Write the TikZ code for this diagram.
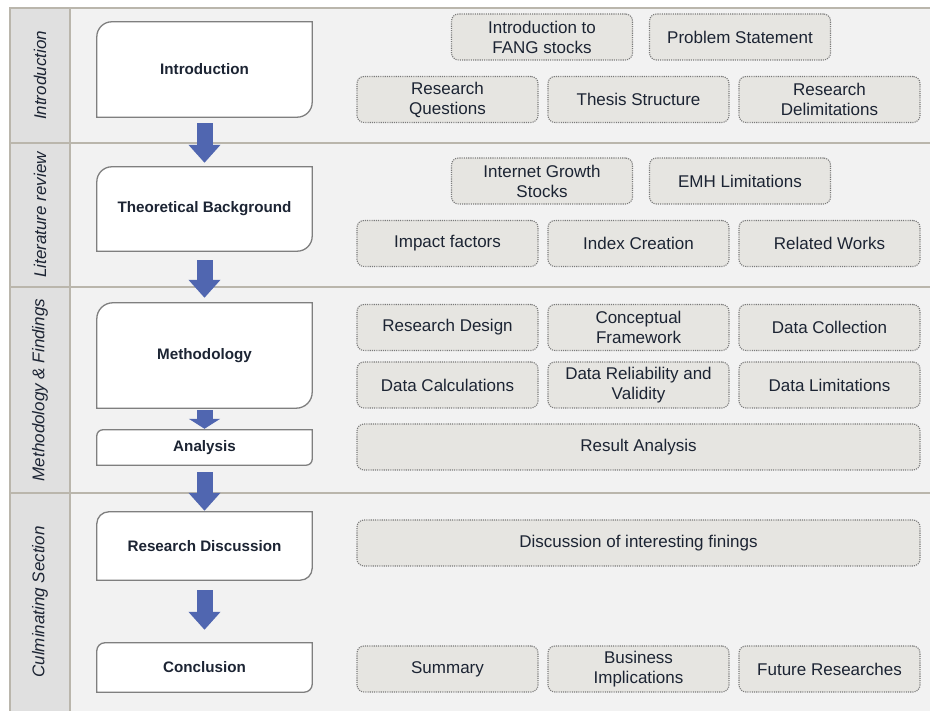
\documentclass[tikz,border=0pt]{standalone}
\usepackage{fontspec}
\setmainfont{Liberation Sans}
\usetikzlibrary{positioning, arrows.meta, backgrounds}

\definecolor{lanefill}{HTML}{F2F2F2}
\definecolor{labelfill}{HTML}{E0E0E0}
\definecolor{laneline}{HTML}{BAB6AC}
\definecolor{topicfill}{HTML}{E6E5E1}
\definecolor{topicline}{HTML}{7A7A7A}
\definecolor{stageline}{HTML}{7F7F7F}
\definecolor{stageblue}{HTML}{5066B0}
\definecolor{ink}{HTML}{1C2433}

\begin{document}
\begin{tikzpicture}[x=1pt, y=1pt, node distance=10pt,
		stage/.style={minimum width=215pt, minimum height=#1, inner sep=0pt, text=ink, font=\fontsize{15.2}{18}\selectfont\bfseries},
		topic/.style={draw=topicline, line width=1.1pt, dash pattern=on 1.1pt off 1.1pt, fill=topicfill, rounded corners=7pt, minimum width=181pt, minimum height=46pt, inner sep=0pt, outer sep=0pt, align=center, text=ink, font=\fontsize{17}{20}\selectfont},
		lane/.style={rotate=90, text=ink, font=\fontsize{17}{20}\selectfont\itshape},
		flow/.style={color=stageblue, line width=16pt, -{Triangle[width=31pt, length=18pt]}}]
		\useasboundingbox (0,0) rectangle (930,711);
		
		% lanes
		\begin{scope}[on background layer]
			\fill[lanefill] (10,0) rectangle (930,703);
			\fill[labelfill] (10,0) rectangle (70,703);
			\draw[laneline, line width=2pt] (10,0) -- (10,703) -- (930,703);
			\draw[laneline, line width=2pt] (70,0) -- (70,703);
			\foreach \y in {568,424,218}
				\draw[laneline, line width=2pt] (10,\y) -- (930,\y);
		\end{scope}
		
		\node[lane] (lintro) at (40,635.5) {Introduction};
		\node[lane] (llit) at (40,496) {Literature review};
		\node[lane] (lmeth) at (40,321) {Methodology \& Findings};
		\node[lane] (lculm) at (40,109) {Culminating Section};
		
		% stages
		\node[stage=95pt] (intro) at (204.5,641.5) {Introduction};
		\node[stage=84pt] (theory) at (204.5,502) {Theoretical Background};
		\node[stage=105pt] (method) at (204.5,355.5) {Methodology};
		\node[stage=35pt] (analysis) at (204.5,263.5) {Analysis};
		\node[stage=68pt] (discuss) at (204.5,165) {Research Discussion};
		\node[stage=49pt] (concl) at (204.5,43.5) {Conclusion};
		
		\begin{scope}[on background layer]
			\foreach \n/\r in {intro/15, theory/15, method/16, analysis/6, discuss/12, concl/8}
				\filldraw[draw=stageline, fill=white, line width=1.3pt]
					(\n.south west) -- ([yshift=-\r pt]\n.north west)
					arc[start angle=180, end angle=90, radius=\r pt] -- (\n.north east)
					-- ([yshift=\r pt]\n.south east)
					arc[start angle=0, end angle=-90, radius=\r pt] -- cycle;
		\end{scope}
		
		% introduction lane
		\node[topic] (fang) at (542,674) {Introduction to\\FANG stocks};
		\node[topic] (problem) [right=17pt of fang] {Problem Statement};
		\node[topic] (questions) at (447.5,611.5) {Research\\Questions};
		\node[topic] (structure) [right=of questions] {Thesis Structure};
		\node[topic] (delim) [right=of structure] {Research\\Delimitations};
		
		% literature lane
		\node[topic] (growth) at (542,530) {Internet Growth\\Stocks};
		\node[topic] (emh) [right=17pt of growth] {EMH Limitations};
		\node[topic] (impact) at (447.5,467.5) {Impact factors};
		\node[topic] (index) [right=of impact] {Index Creation};
		\node[topic] (related) [right=of index] {Related Works};
		
		% methodology lane
		\node[topic] (design) at (447.5,383.5) {Research Design};
		\node[topic] (framework) [right=of design] {Conceptual\\Framework};
		\node[topic] (collect) [right=of framework] {Data Collection};
		\node[topic] (calc) at (447.5,326) {Data Calculations};
		\node[topic] (valid) [right=of calc] {Data Reliability and\\Validity};
		\node[topic] (limits) [right=of valid] {Data Limitations};
		\node[topic, minimum width=563pt] (result) at (638.5,264) {Result Analysis};
		
		% culminating lane
		\node[topic, minimum width=563pt] (findings) at (638.5,168) {Discussion of interesting finings};
		\node[topic] (summary) at (447.5,42) {Summary};
		\node[topic] (business) [right=of summary] {Business\\Implications};
		\node[topic] (future) [right=of business] {Future Researches};
		
		\path[flow]
		(intro) edge [shorten <=6pt, shorten >=4pt] (theory)
		(theory) edge [shorten <=9pt, shorten >=5pt] (method)
		(method) edge [shorten <=2pt, shorten >=1pt, -{Triangle[width=31pt, length=10pt]}] (analysis)
		(analysis) edge [shorten <=7pt, shorten >=1pt] (discuss)
		(discuss) edge [shorten <=10pt, shorten >=13pt] (concl);
	\end{tikzpicture}
\end{document}
